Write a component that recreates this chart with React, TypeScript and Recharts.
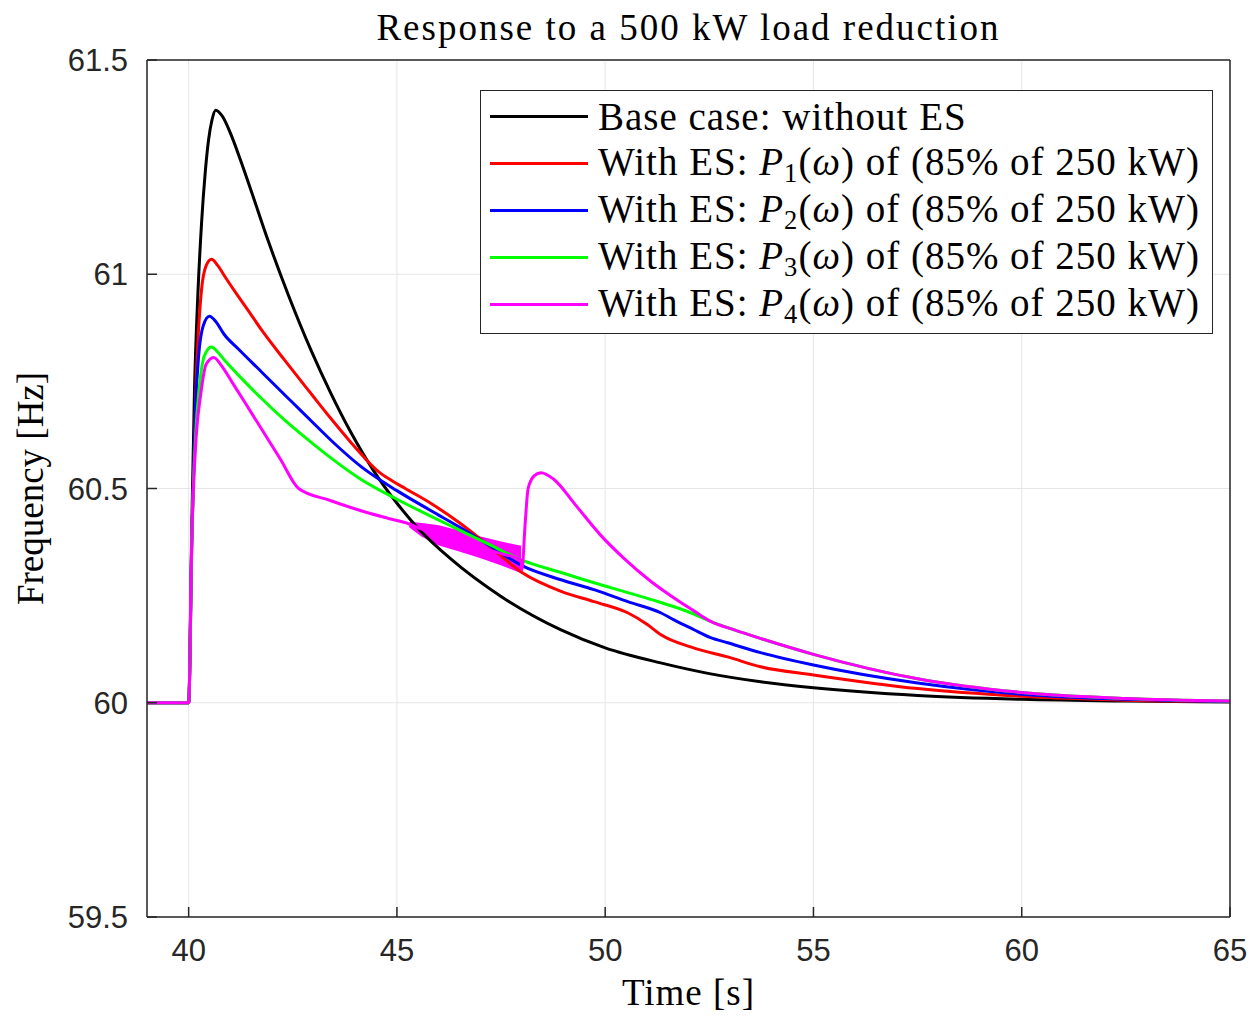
import { ComposedChart, Line, Area, XAxis, YAxis, CartesianGrid, Label } from "recharts";

// frequency traces: [time s, frequency Hz]
const baseCase: [number, number][] = [
  [39, 60], [40, 60], [40.07, 60.38], [40.14, 60.73], [40.22, 60.95], [40.31, 61.12], [40.4, 61.24],
  [40.48, 61.315], [40.56, 61.36], [40.65, 61.383], [40.8, 61.37], [41.0, 61.33], [41.25, 61.265],
  [41.5, 61.195], [41.92, 61.075], [42.4, 60.95], [42.95, 60.82], [43.4, 60.725], [43.9, 60.63],
  [44.45, 60.54], [45.03, 60.462], [45.5, 60.408], [46.3, 60.335], [47.5, 60.248], [48.94, 60.17],
  [50, 60.128], [51.33, 60.093], [52.5, 60.068], [53.73, 60.049], [55, 60.035], [57.5, 60.017],
  [60, 60.008], [62.5, 60.004], [65, 60.002],
];

const withP1: [number, number][] = [
  [39, 60], [40, 60], [40.08, 60.4], [40.18, 60.75], [40.31, 60.965], [40.42, 61.02], [40.55, 61.035],
  [40.7, 61.02], [40.9, 60.99], [41.2, 60.947], [41.44, 60.914], [41.75, 60.87], [42.3, 60.8],
  [42.95, 60.72], [43.4, 60.665], [43.9, 60.607], [44.2, 60.574], [44.55, 60.54], [44.9, 60.517],
  [45.2, 60.5], [45.82, 60.465], [46.5, 60.42], [47.2, 60.367], [48, 60.304], [48.94, 60.26],
  [49.73, 60.236], [50.54, 60.21], [51.02, 60.182], [51.33, 60.159], [52.12, 60.128], [52.94, 60.107],
  [53.73, 60.084], [55, 60.065], [57.5, 60.033], [60, 60.015], [62.5, 60.006], [65, 60.003],
];

const withP2: [number, number][] = [
  [39, 60], [40, 60], [40.08, 60.4], [40.16, 60.68], [40.24, 60.81], [40.35, 60.88], [40.5, 60.902],
  [40.65, 60.89], [40.85, 60.86], [41.2, 60.825], [41.75, 60.772], [42.06, 60.742], [42.5, 60.7],
  [42.95, 60.657], [43.5, 60.605], [44.14, 60.551], [45, 60.495], [45.82, 60.448], [46.5, 60.41],
  [47.2, 60.368], [48, 60.32], [48.94, 60.287], [49.73, 60.264], [50.54, 60.236], [51.33, 60.21],
  [51.64, 60.194], [52.12, 60.171], [52.53, 60.152], [52.94, 60.14], [53.73, 60.117], [55, 60.088],
  [57.5, 60.046], [60, 60.02], [62.5, 60.008], [65, 60.003],
];

const withP3: [number, number][] = [
  [39, 60], [40, 60], [40.08, 60.4], [40.17, 60.63], [40.26, 60.74], [40.38, 60.81], [40.55, 60.83],
  [40.7, 60.818], [40.9, 60.795], [41.2, 60.764], [41.75, 60.71], [42.3, 60.66], [42.95, 60.607],
  [43.5, 60.565], [44.14, 60.521], [45, 60.475], [45.82, 60.435], [46.5, 60.403], [47.2, 60.37],
  [48, 60.333], [48.94, 60.304], [49.73, 60.28], [50.54, 60.257], [51.3, 60.235], [51.98, 60.213],
  [52.53, 60.19], [53.1, 60.17], [53.73, 60.15], [55, 60.113], [57.5, 60.056], [60, 60.024],
  [62.5, 60.01], [65, 60.004],
];

const withP4: [number, number][] = [
  [39, 60], [40, 60], [40.08, 60.4], [40.18, 60.62], [40.29, 60.72], [40.42, 60.79], [40.6, 60.806],
  [40.8, 60.785], [41.03, 60.75], [41.4, 60.693], [41.75, 60.639], [42.2, 60.569], [42.64, 60.5],
  [43.4, 60.472], [44.14, 60.448], [44.8, 60.43], [45.3, 60.417], [45.6, 60.405], [46, 60.392],
  [46.5, 60.377], [47, 60.362], [47.5, 60.348], [47.98, 60.333], [48.0, 60.31], [48.08, 60.42],
  [48.15, 60.5], [48.3, 60.53], [48.46, 60.537], [48.77, 60.521], [49.3, 60.46], [49.9, 60.39],
  [50.45, 60.337], [51.1, 60.283], [51.6, 60.248], [52.12, 60.215], [52.53, 60.19], [53.1, 60.17],
  [53.73, 60.15], [55, 60.113], [57.5, 60.056], [60, 60.024], [62.5, 60.01], [65, 60.004],
];

// envelope of the fast oscillation of P4 between ~45.3 s and 48 s: [time, low, high]
const p4Band: [number, number, number][] = [
  [45.3, 60.412, 60.42], [45.6, 60.39, 60.417], [46.0, 60.37, 60.412], [46.5, 60.355, 60.4],
  [47.0, 60.34, 60.386], [47.5, 60.323, 60.374], [47.98, 60.305, 60.364],
];

const xTicks = [40, 45, 50, 55, 60, 65];
const yTicks = [59.5, 60, 60.5, 61, 61.5];

const series = [
  { key: "base", pts: baseCase, color: "#000000", sub: "" },
  { key: "p1", pts: withP1, color: "#ff0000", sub: "1" },
  { key: "p2", pts: withP2, color: "#0000ff", sub: "2" },
  { key: "p3", pts: withP3, color: "#00ff00", sub: "3" },
  { key: "p4", pts: withP4, color: "#ff00ff", sub: "4" },
];

const rowMap = new Map<number, any>();
series.forEach((s) =>
  s.pts.forEach(([t, f]) => {
    const r = rowMap.get(t) ?? { t };
    r[s.key] = f;
    rowMap.set(t, r);
  })
);
p4Band.forEach(([t, lo, hi]) => {
  const r = rowMap.get(t) ?? { t };
  r.band = [lo, hi];
  rowMap.set(t, r);
});
const rows = [...rowMap.values()].sort((a, b) => a.t - b.t);

const SERIF = '"Liberation Serif", "DejaVu Serif", serif';
const SANS = '"Liberation Sans", Arial, sans-serif';
const AXIS = "#262626";

function LegendBox() {
  return (
    <div
      style={{
        position: "absolute",
        left: 480,
        top: 90,
        width: 733,
        height: 244,
        boxSizing: "border-box",
        border: `1.5px solid ${AXIS}`,
        background: "#fff",
        paddingTop: 2,
        fontFamily: SERIF,
        color: "#000",
      }}
    >
      {series.map((s) => (
        <div key={s.key} style={{ display: "flex", alignItems: "center", height: 47 }}>
          <div style={{ width: 98, borderTop: `3px solid ${s.color}`, marginLeft: 9, marginRight: 10 }} />
          <span style={{ fontSize: 39, lineHeight: "47px", whiteSpace: "nowrap", letterSpacing: 1 }}>
            {s.sub ? (
              <>
                With ES: <i>P</i>
                <span style={{ fontSize: "0.68em", position: "relative", top: "0.28em" }}>{s.sub}</span>(
                <i>ω</i>) of (85% of 250 kW)
              </>
            ) : (
              "Base case: without ES"
            )}
          </span>
        </div>
      ))}
    </div>
  );
}

export default function App() {
  return (
    <div style={{ position: "absolute", left: 0, top: 0, width: 1255, height: 1017, background: "#fff" }}>
      <ComposedChart width={1255} height={1017} data={rows} margin={{ top: 59, right: 24, bottom: 0, left: 0 }}>
        <CartesianGrid stroke="#e6e6e6" strokeWidth={1} />
        <XAxis
          dataKey="t"
          type="number"
          domain={[39, 65]}
          ticks={xTicks}
          height={100}
          tickSize={-10}
          tickMargin={32}
          stroke={AXIS}
          strokeWidth={1.5}
          tick={{ fill: AXIS, fontSize: 31, fontFamily: SANS }}
        >
          <Label value="Time [s]" position="insideBottom" offset={12} style={{ fontFamily: SERIF, fontSize: 37, fill: "#000", letterSpacing: 1 }} />
        </XAxis>
        <XAxis
          xAxisId="top"
          orientation="top"
          type="number"
          domain={[39, 65]}
          ticks={xTicks}
          height={1}
          tickSize={-10}
          stroke={AXIS}
          strokeWidth={1.5}
          tick={false}
        />
        <YAxis
          type="number"
          domain={[59.5, 61.5]}
          ticks={yTicks}
          width={147}
          tickSize={-10}
          tickMargin={29}
          stroke={AXIS}
          strokeWidth={1.5}
          tick={{ fill: AXIS, fontSize: 31, fontFamily: SANS }}
        >
          <Label
            value="Frequency [Hz]"
            angle={-90}
            position="insideLeft"
            offset={30}
            style={{ fontFamily: SERIF, fontSize: 37, fill: "#000", textAnchor: "middle" }}
          />
        </YAxis>
        <YAxis
          yAxisId="right"
          orientation="right"
          type="number"
          domain={[59.5, 61.5]}
          ticks={yTicks}
          width={1}
          tickSize={-10}
          stroke={AXIS}
          strokeWidth={1.5}
          tick={false}
        />
        {series.map((s) => (
          <Line
            key={s.key}
            dataKey={s.key}
            type="monotone"
            stroke={s.color}
            strokeWidth={3}
            dot={false}
            connectNulls
            isAnimationActive={false}
          />
        ))}
        <Area
          dataKey="band"
          type="linear"
          stroke="#ff00ff"
          strokeWidth={2}
          fill="#ff00ff"
          fillOpacity={1}
          connectNulls
          legendType="none"
          isAnimationActive={false}
        />
      </ComposedChart>
      <div
        style={{
          position: "absolute",
          left: 147,
          width: 1083,
          top: 8,
          textAlign: "center",
          fontFamily: SERIF,
          fontSize: 37,
          lineHeight: "40px",
          letterSpacing: 2,
          color: "#000",
        }}
      >
        Response to a 500 kW load reduction
      </div>
      <LegendBox />
    </div>
  );
}
